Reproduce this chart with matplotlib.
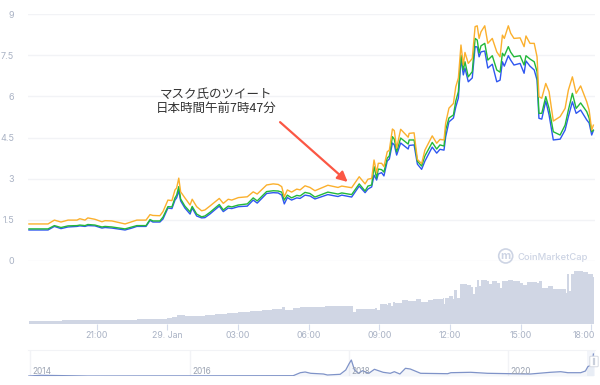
import matplotlib
matplotlib.use('Agg')
import matplotlib.pyplot as plt
from matplotlib.patches import Circle, FancyBboxPatch
from matplotlib.transforms import IdentityTransform, ScaledTranslation

plt.rcParams['font.family'] = ['Inter', 'DejaVu Sans']

# hours from 29 Jan 00:00
hours = [-5.88, -5.07, -4.80, -4.52, -4.22, -3.84, -3.72, -3.50, -3.38, -3.08, -2.78, -2.65, -2.36, -1.80, -1.51, -1.30,
         -0.91, -0.74, -0.62, -0.32, -0.19, 0.02, 0.19, 0.32, 0.39, 0.48, 0.56, 0.74, 0.96, 1.05, 1.24, 1.45,
         1.59, 1.80, 2.20, 2.37, 2.58, 2.73, 3.01, 3.39, 3.64, 3.81, 4.21, 4.49, 4.70, 4.85, 4.96, 5.09,
         5.27, 5.49, 5.63, 5.84, 6.05, 6.26, 6.81, 7.24, 7.40, 7.82, 8.14, 8.39, 8.51, 8.67, 8.77, 8.88,
         8.95, 9.09, 9.19, 9.33, 9.42, 9.55, 9.63, 9.73, 9.90, 10.22, 10.26, 10.47, 10.61, 10.79, 10.93, 11.24,
         11.43, 11.57, 11.74, 11.81, 11.95, 12.14, 12.24, 12.35, 12.46, 12.56, 12.63, 12.77, 12.94, 13.06, 13.15, 13.23,
         13.31, 13.47, 13.60, 13.79, 13.98, 14.12, 14.22, 14.30, 14.47, 14.57, 14.71, 14.97, 15.14, 15.22, 15.39, 15.57,
         15.69, 15.77, 15.89, 16.06, 16.20, 16.38, 16.67, 16.88, 17.02, 17.19, 17.35, 17.54, 17.80, 17.90, 18.01, 18.08]

orange = [1.35, 1.35, 1.49, 1.42, 1.49, 1.49, 1.54, 1.49, 1.57, 1.52, 1.43, 1.47, 1.46, 1.35, 1.43, 1.49,
          1.49, 1.69, 1.66, 1.65, 1.80, 2.22, 2.20, 2.59, 2.66, 3.02, 2.52, 2.30, 2.04, 2.25, 1.98, 1.83,
          1.86, 2.00, 2.28, 2.10, 2.25, 2.22, 2.31, 2.34, 2.52, 2.44, 2.77, 2.81, 2.79, 2.71, 2.34, 2.59,
          2.51, 2.62, 2.59, 2.74, 2.68, 2.56, 2.76, 2.68, 2.73, 2.67, 3.07, 2.81, 2.98, 3.01, 3.68, 3.21,
          3.56, 3.56, 3.44, 3.98, 4.04, 4.81, 4.75, 4.11, 4.80, 4.51, 4.65, 4.67, 3.70, 3.55, 4.04, 4.56,
          4.29, 4.43, 4.41, 5.02, 5.57, 5.74, 6.35, 6.67, 7.87, 7.14, 7.60, 7.20, 7.38, 8.54, 8.57, 8.11,
          8.35, 8.57, 7.93, 8.11, 7.62, 7.44, 8.23, 8.11, 8.57, 8.30, 8.11, 8.13, 7.81, 8.20, 7.93, 7.93,
          7.44, 5.99, 5.93, 6.47, 6.17, 5.10, 5.26, 5.56, 6.23, 6.71, 6.11, 6.38, 5.80, 5.50, 4.77, 4.95]

green = [1.17, 1.17, 1.29, 1.22, 1.28, 1.29, 1.31, 1.29, 1.33, 1.31, 1.24, 1.26, 1.24, 1.17, 1.24, 1.29,
         1.29, 1.51, 1.46, 1.46, 1.60, 1.98, 1.97, 2.30, 2.40, 2.71, 2.26, 2.00, 1.79, 1.99, 1.71, 1.61,
         1.64, 1.77, 2.06, 1.86, 2.00, 1.97, 2.04, 2.08, 2.30, 2.19, 2.53, 2.56, 2.55, 2.51, 2.22, 2.40,
         2.30, 2.39, 2.37, 2.50, 2.46, 2.33, 2.51, 2.44, 2.48, 2.42, 2.81, 2.55, 2.73, 2.77, 3.44, 3.02,
         3.35, 3.33, 3.24, 3.75, 3.83, 4.53, 4.44, 3.98, 4.48, 4.26, 4.41, 4.41, 3.64, 3.46, 3.83, 4.32,
         4.08, 4.23, 4.19, 4.77, 5.21, 5.32, 5.83, 6.17, 7.50, 6.96, 7.26, 6.71, 6.90, 8.11, 8.05, 7.58,
         7.84, 7.93, 7.32, 7.48, 6.96, 6.88, 7.57, 7.47, 7.81, 7.61, 7.44, 7.48, 7.14, 7.48, 7.36, 7.26,
         6.90, 5.38, 5.38, 5.99, 5.56, 4.71, 4.59, 4.95, 5.50, 6.11, 5.56, 5.76, 5.44, 5.21, 4.71, 4.77]

blue = [1.13, 1.13, 1.26, 1.18, 1.24, 1.26, 1.28, 1.26, 1.29, 1.28, 1.20, 1.22, 1.20, 1.13, 1.20, 1.26,
        1.26, 1.48, 1.42, 1.42, 1.53, 1.93, 1.91, 2.22, 2.30, 2.56, 2.19, 1.93, 1.71, 1.93, 1.64, 1.57,
        1.58, 1.71, 2.00, 1.80, 1.93, 1.91, 1.98, 2.00, 2.22, 2.11, 2.46, 2.49, 2.48, 2.40, 2.08, 2.31,
        2.22, 2.30, 2.28, 2.40, 2.37, 2.26, 2.42, 2.35, 2.40, 2.33, 2.73, 2.49, 2.62, 2.70, 3.13, 2.95,
        3.17, 3.22, 3.10, 3.64, 3.72, 4.30, 4.23, 3.86, 4.30, 4.08, 4.21, 4.23, 3.53, 3.34, 3.64, 4.15,
        3.93, 4.07, 4.04, 4.52, 5.07, 5.21, 5.61, 5.94, 7.38, 6.78, 7.03, 6.53, 6.67, 7.81, 7.80, 7.44,
        7.62, 7.65, 7.03, 7.17, 6.53, 6.59, 7.26, 7.10, 7.48, 7.32, 7.14, 7.20, 6.84, 7.29, 7.10, 6.96,
        6.59, 5.20, 5.17, 5.83, 5.32, 4.41, 4.44, 4.77, 5.26, 5.80, 5.38, 5.50, 5.14, 5.03, 4.59, 4.75]

vol_hours = [-5.88, -5.07, -4.48, -3.72, -2.87, -2.02, -1.30, -0.66, -0.02, 0.19, 0.40, 0.53, 0.74, 1.25, 1.59, 2.02,
             2.53, 2.99, 3.50, 4.01, 4.44, 4.86, 4.99, 5.33, 5.63, 6.05,
             6.69, 7.32, 7.83, 7.88, 8.00, 8.39, 8.81, 8.90, 9.02, 9.32, 9.36, 9.49, 9.58, 9.66, 9.96, 10.21,
             10.55, 10.76, 11.06, 11.27, 11.70, 11.74, 11.78, 11.95, 12.12, 12.16, 12.29, 12.42, 12.72, 12.89, 12.97, 13.06,
             13.14, 13.23, 13.31, 13.57, 13.65, 13.78, 13.99, 14.12, 14.20, 14.46, 14.67, 14.97, 15.10, 15.26, 15.52, 15.69,
             15.77, 15.90, 16.16, 16.37, 16.75, 16.92, 16.96, 17.05, 17.13, 17.26, 17.64, 17.85, 18.06, 18.11]
volume = [2.5, 3, 3.2, 3.5, 3.7, 3.9, 4.2, 4.8, 6, 7, 8.5, 9, 8, 8, 8.7, 10,
          11, 11.7, 12.5, 14, 15, 16.3, 14, 16, 16.3, 17,
          17.3, 18, 18, 11.7, 15, 14.7, 16, 13.3, 19.3, 18.3, 21, 17.7, 21.7, 20.7, 23.3, 22.7,
          25, 22, 23.3, 24.7, 25.3, 19.3, 26, 27.7, 25, 33.3, 26, 40, 39, 36.7, 30, 36.7,
          43.3, 38, 44, 42.7, 39.3, 42.7, 40.7, 36, 42.7, 43.3, 42.7, 40.7, 38.3, 42, 41.7, 41,
          42.3, 35.3, 37.3, 35, 35, 31, 49.3, 33, 50, 53, 51.3, 49.3, 46.7, 46.7]

nav_years = [2013.98, 2014.13, 2014.72, 2017.30, 2017.39, 2017.45, 2017.52, 2017.68, 2017.73, 2017.89, 2017.96, 2018.0,
             2018.03, 2018.07, 2018.12, 2018.17, 2018.25, 2018.32, 2018.43, 2018.52, 2018.57, 2018.64, 2018.71, 2018.77,
             2018.90, 2019.24, 2019.28, 2019.53, 2019.74, 2020.03, 2020.28, 2020.53, 2020.66, 2020.75, 2020.91, 2020.97,
             2021.0, 2021.04, 2021.06, 2021.07]
nav_price = [0, 0.7, 0, 0.3, 3.3, 4, 2.7, 2, 1, 1.7, 6, 12,
             16, 6, 2.7, 5.3, 2.7, 6.7, 3.7, 2.7, 4.3, 2, 7.7, 7,
             2.7, 2.3, 3.3, 3.7, 2.7, 2.3, 2, 3.7, 4.3, 3.3, 3.3, 5,
             9.3, 11, 16, 22]

y_ticks = [0, 1.5, 3, 4.5, 6, 7.5, 9]
y_labels = ['0', '1.5', '3', '4.5', '6', '7.5', '9']
x_ticks = [-3, 0, 3, 6, 9, 12, 15, 18]
x_labels = ['21:00', '29. Jan', '03:00', '06:00', '09:00', '12:00', '15:00', '18:00']
year_ticks = [2014, 2016, 2018, 2020]

W, H = 600, 385
grey = '#a9b2c4'
grid = '#f2f3f6'
jp = ['Noto Sans CJK JP', 'DejaVu Sans']

fig = plt.figure(figsize=(6, 3.85), dpi=100)
ax = fig.add_axes([28 / W, 1 - 261 / H, 567 / W, 247 / H])
ax_vol = fig.add_axes([28 / W, 1 - 323.5 / H, 567 / W, 62.5 / H])
ax_nav = fig.add_axes([28 / W, 1 - 376 / H, 567 / W, 26 / H])

xlim = (-5.92, 18.15)

ax.set_xlim(xlim)
ax.set_ylim(0, 9)
ax.set_yticks(y_ticks)
ax.set_yticklabels(y_labels, color=grey, fontsize=6.5)
ax.set_xticks([])
ax.tick_params(axis='y', length=0, pad=10)
ax.grid(axis='y', color=grid, lw=1)
ax.set_axisbelow(True)
for s in ax.spines.values():
    s.set_visible(False)
ax.patch.set_alpha(0)

ax.plot(hours, blue, color='#2f57f0', lw=1.0)
ax.plot(hours, green, color='#22b83a', lw=1.0)
ax.plot(hours, orange, color='#fbb02d', lw=1.0)

ax.text(2.06, 6.08, 'マスク氏のツイート', family=jp, fontsize=9, color='#333333', ha='center', va='center')
ax.text(2.06, 5.52, '日本時間午前7時47分', family=jp, fontsize=9, color='#333333', ha='center', va='center')
ax.annotate('', xy=(7.65, 2.88), xytext=(4.78, 5.06),
            arrowprops=dict(arrowstyle='-|>', color='#fb5744', lw=1.6, mutation_scale=15,
                            shrinkA=0, shrinkB=0))

ax_vol.set_xlim(xlim)
ax_vol.set_ylim(0, 62.5)
ax_vol.fill_between(vol_hours, volume, step='post', color='#d0d6e4', lw=0)
ax_vol.set_yticks([])
ax_vol.set_xticks(x_ticks)
ax_vol.set_xticklabels(x_labels, color=grey, fontsize=6.3)
ax_vol.tick_params(axis='x', length=4, width=0.8, color='#d5dcec', pad=1.5)
last = ax_vol.get_xticklabels()[-1]
last.set_ha('right')
last.set_transform(last.get_transform() + ScaledTranslation(3 / 100, 0, fig.dpi_scale_trans))
for s in ax_vol.spines.values():
    s.set_visible(False)
ax_vol.patch.set_alpha(0)

ax_nav.set_xlim(2013.97, 2021.09)
ax_nav.set_ylim(0, 26)
ax_nav.plot(nav_years, nav_price, color='#7f93c8', lw=0.9)
ax_nav.fill_between(nav_years, nav_price, color='#7f93c8', alpha=0.08, lw=0)
ax_nav.axvspan(2020.99, 2021.09, color='#6685c2', alpha=0.08, lw=0)
ax_nav.set_yticks([])
ax_nav.set_xticks([])
for yr in year_ticks:
    ax_nav.axvline(yr, color=grid, lw=1, zorder=0)
    ax_nav.text(yr + 0.03, 5, str(yr), color='#9aa2b1', fontsize=6, va='center', ha='left')
for name, s in ax_nav.spines.items():
    s.set_visible(name == 'top')
    s.set_color(grid)
ax_nav.patch.set_alpha(0)

# navigator handle and the cut off button below it
sx = 1 / W
sy = 1 / H
fig.add_artist(FancyBboxPatch((591 * sx, 1 - 366 * sy), 6 * sx, 9 * sy, boxstyle='round,pad=0.002',
                              fc='white', ec='#d5d9e2', lw=0.7, transform=fig.transFigure))
fig.add_artist(plt.Line2D([594 * sx, 594 * sx], [1 - 364 * sy, 1 - 359 * sy], color='#c9cfdb', lw=1.6))
fig.add_artist(FancyBboxPatch((468 * sx, -0.02), 140 * sx, 6 * sy, boxstyle='round,pad=0.004',
                              fc='#f0f1f4', ec='none', transform=fig.transFigure))

# watermark
logo = Circle((505.7, H - 256), 7, fc='none', ec='#cdd4e4', lw=1.2, transform=IdentityTransform())
fig.add_artist(logo)
fig.text(505.7 * sx, 1 - 256 * sy, 'm', color='#cdd4e4', fontsize=8, fontweight='bold', ha='center', va='center')
fig.text(518 * sx, 1 - 257 * sy, 'CoinMarketCap', color='#cdd4e4', fontsize=6.8, fontweight='medium',
         ha='left', va='center')

fig.savefig('out.png', dpi=100)
